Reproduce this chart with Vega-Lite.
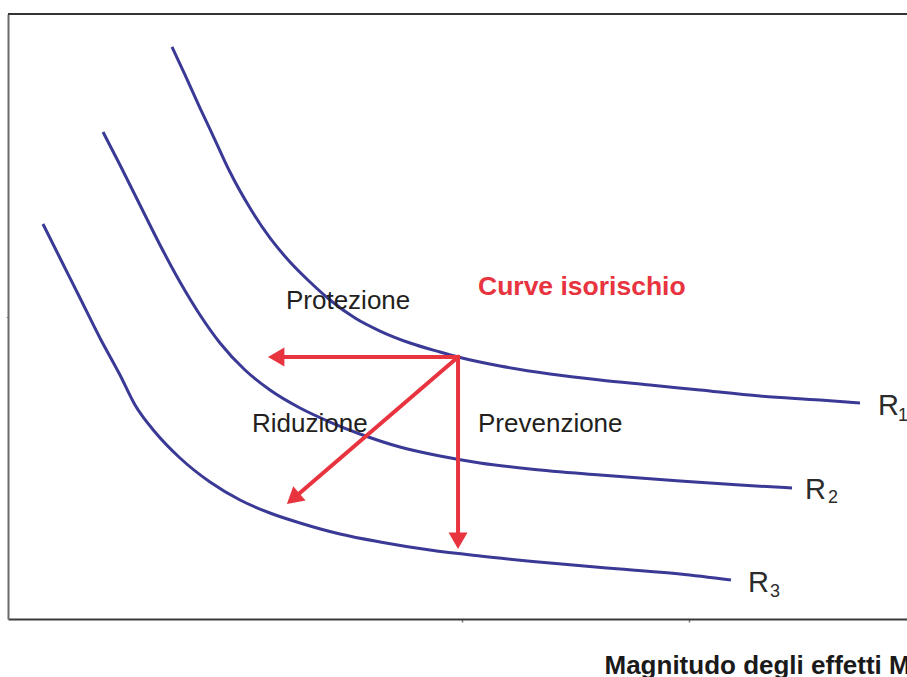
{
  "$schema": "https://vega.github.io/schema/vega-lite/v6.json",
  "width": 899,
  "height": 605,
  "autosize": {"type": "none"},
  "padding": {"left": 8, "top": 14, "right": 0, "bottom": 58},
  "background": "white",
  "config": {
    "view": {"stroke": null},
    "font": "Liberation Sans",
    "axisX": {
      "orient": "bottom", "domain": true, "domainColor": "#3a3a3a", "domainWidth": 2,
      "ticks": true, "tickSize": 3, "tickColor": "#777777", "tickWidth": 1.5,
      "labels": false, "grid": false,
      "titleFont": "Liberation Sans", "titleFontWeight": "bold",
      "titleFontSize": 26, "titleColor": "#1a1a1a", "titleX": 596, "titleY": 54,
      "titleAlign": "left", "titleBaseline": "alphabetic", "titleAnchor": "start"
    },
    "axisY": {
      "orient": "left", "domain": true, "domainColor": "#6b6b6b", "domainWidth": 2,
      "ticks": true, "tickSize": 2, "tickColor": "#999999",
      "labels": false, "grid": false
    }
  },
  "datasets": {
    "curves": [
      {"curve": "R1", "x": 18.24, "y": 94.55}, {"curve": "R1", "x": 19.69, "y": 89.92}, {"curve": "R1", "x": 21.36, "y": 84.46},
      {"curve": "R1", "x": 23.03, "y": 79.17}, {"curve": "R1", "x": 24.69, "y": 73.88}, {"curve": "R1", "x": 26.92, "y": 67.93},
      {"curve": "R1", "x": 29.14, "y": 62.98}, {"curve": "R1", "x": 31.37, "y": 59.01}, {"curve": "R1", "x": 33.59, "y": 55.70},
      {"curve": "R1", "x": 35.82, "y": 52.73}, {"curve": "R1", "x": 38.60, "y": 49.75}, {"curve": "R1", "x": 41.38, "y": 47.60},
      {"curve": "R1", "x": 44.72, "y": 45.62}, {"curve": "R1", "x": 48.05, "y": 44.13}, {"curve": "R1", "x": 50.06, "y": 43.31},
      {"curve": "R1", "x": 54.73, "y": 41.82}, {"curve": "R1", "x": 60.29, "y": 40.50}, {"curve": "R1", "x": 65.85, "y": 39.50},
      {"curve": "R1", "x": 71.41, "y": 38.68}, {"curve": "R1", "x": 76.97, "y": 37.85}, {"curve": "R1", "x": 83.65, "y": 36.86},
      {"curve": "R1", "x": 90.32, "y": 36.20}, {"curve": "R1", "x": 94.77, "y": 35.70},
      {"curve": "R2", "x": 10.57, "y": 80.50}, {"curve": "R2", "x": 12.46, "y": 75.04}, {"curve": "R2", "x": 14.68, "y": 68.43},
      {"curve": "R2", "x": 16.91, "y": 61.82}, {"curve": "R2", "x": 19.13, "y": 55.70}, {"curve": "R2", "x": 21.36, "y": 50.25},
      {"curve": "R2", "x": 23.58, "y": 45.62}, {"curve": "R2", "x": 26.36, "y": 41.16}, {"curve": "R2", "x": 29.14, "y": 37.85},
      {"curve": "R2", "x": 32.48, "y": 34.88}, {"curve": "R2", "x": 35.82, "y": 32.56}, {"curve": "R2", "x": 39.15, "y": 30.58},
      {"curve": "R2", "x": 43.60, "y": 28.43}, {"curve": "R2", "x": 48.05, "y": 26.94}, {"curve": "R2", "x": 52.50, "y": 25.79},
      {"curve": "R2", "x": 58.06, "y": 24.79}, {"curve": "R2", "x": 65.85, "y": 23.80}, {"curve": "R2", "x": 74.75, "y": 22.81},
      {"curve": "R2", "x": 81.42, "y": 22.15}, {"curve": "R2", "x": 87.21, "y": 21.65},
      {"curve": "R3", "x": 3.89, "y": 65.29}, {"curve": "R3", "x": 5.78, "y": 59.67}, {"curve": "R3", "x": 8.01, "y": 53.06},
      {"curve": "R3", "x": 10.23, "y": 46.45}, {"curve": "R3", "x": 12.46, "y": 40.33}, {"curve": "R3", "x": 14.13, "y": 35.37},
      {"curve": "R3", "x": 16.35, "y": 30.91}, {"curve": "R3", "x": 19.13, "y": 26.61}, {"curve": "R3", "x": 22.47, "y": 22.64},
      {"curve": "R3", "x": 25.81, "y": 19.67}, {"curve": "R3", "x": 29.14, "y": 17.52}, {"curve": "R3", "x": 32.48, "y": 15.87},
      {"curve": "R3", "x": 36.93, "y": 14.05}, {"curve": "R3", "x": 41.38, "y": 12.73}, {"curve": "R3", "x": 46.94, "y": 11.40},
      {"curve": "R3", "x": 52.50, "y": 10.41}, {"curve": "R3", "x": 60.29, "y": 9.26}, {"curve": "R3", "x": 68.08, "y": 8.26},
      {"curve": "R3", "x": 74.75, "y": 7.44}, {"curve": "R3", "x": 80.42, "y": 6.45}
    ],
    "arrows": [
      {"arrow": "Protezione", "x": 50.06, "y": 43.31, "x2": 29.83, "y2": 43.31},
      {"arrow": "Prevenzione", "x": 50.06, "y": 43.31, "x2": 50.06, "y2": 12.93},
      {"arrow": "Riduzione", "x": 50.06, "y": 43.31, "x2": 31.72, "y2": 19.88}
    ]
  },
  "layer": [
    {
      "data": {"name": "curves"},
      "mark": {"type": "line", "color": "#3a3a96", "strokeWidth": 3, "interpolate": "monotone"},
      "encoding": {
        "x": {
          "field": "x", "type": "quantitative",
          "scale": {"domain": [0, 100], "nice": false, "zero": false},
          "axis": {"values": [50.5, 75.75], "title": "Magnitudo degli effetti M"}
        },
        "y": {
          "field": "y", "type": "quantitative",
          "scale": {"domain": [0, 100], "nice": false, "zero": false},
          "axis": {"values": [50], "title": null}
        },
        "detail": {"field": "curve"}
      }
    },
    {
      "data": {"values": [{"edge": "top"}]},
      "mark": {"type": "rule", "color": "#333333", "strokeWidth": 2},
      "encoding": {"y": {"datum": 100, "type": "quantitative"}}
    },
    {
      "data": {"name": "arrows"},
      "mark": {"type": "rule", "color": "#e8343f", "strokeWidth": 4, "strokeCap": "square"},
      "encoding": {
        "x": {"field": "x", "type": "quantitative"},
        "y": {"field": "y", "type": "quantitative"},
        "x2": {"field": "x2"},
        "y2": {"field": "y2"}
      }
    },
    {
      "data": {"name": "arrows"},
      "transform": [{"filter": "datum.arrow === 'Protezione'"}],
      "mark": {"type": "point", "shape": "triangle-up", "filled": true, "size": 360, "angle": 270, "color": "#e8343f", "opacity": 1},
      "encoding": {
        "x": {"field": "x2", "type": "quantitative"},
        "y": {"field": "y2", "type": "quantitative"}
      }
    },
    {
      "data": {"name": "arrows"},
      "transform": [{"filter": "datum.arrow === 'Prevenzione'"}],
      "mark": {"type": "point", "shape": "triangle-up", "filled": true, "size": 360, "angle": 180, "color": "#e8343f", "opacity": 1},
      "encoding": {
        "x": {"field": "x2", "type": "quantitative"},
        "y": {"field": "y2", "type": "quantitative"}
      }
    },
    {
      "data": {"name": "arrows"},
      "transform": [{"filter": "datum.arrow === 'Riduzione'"}],
      "mark": {"type": "point", "shape": "triangle-up", "filled": true, "size": 360, "angle": 229.5, "color": "#e8343f", "opacity": 1},
      "encoding": {
        "x": {"field": "x2", "type": "quantitative"},
        "y": {"field": "y2", "type": "quantitative"}
      }
    },
    {
      "data": {"values": [
        {"label": "Protezione", "x": 30.92, "y": 51.24},
        {"label": "Riduzione", "x": 27.14, "y": 30.91},
        {"label": "Prevenzione", "x": 52.28, "y": 30.91}
      ]},
      "mark": {"type": "text", "align": "left", "baseline": "alphabetic", "fontSize": 26, "color": "#231f20", "font": "Liberation Sans"},
      "encoding": {
        "x": {"field": "x", "type": "quantitative"},
        "y": {"field": "y", "type": "quantitative"},
        "text": {"field": "label"}
      }
    },
    {
      "data": {"values": [{"label": "Curve isorischio", "x": 52.28, "y": 53.55}]},
      "mark": {"type": "text", "align": "left", "baseline": "alphabetic", "fontSize": 26.5, "fontWeight": "bold", "color": "#e8343f", "font": "Liberation Sans"},
      "encoding": {
        "x": {"field": "x", "type": "quantitative"},
        "y": {"field": "y", "type": "quantitative"},
        "text": {"field": "label"}
      }
    },
    {
      "data": {"values": [
        {"label": "R", "x": 96.77, "y": 33.72},
        {"label": "R", "x": 88.65, "y": 19.83},
        {"label": "R", "x": 82.31, "y": 4.46}
      ]},
      "mark": {"type": "text", "align": "left", "baseline": "alphabetic", "fontSize": 29, "color": "#2b2b2b", "font": "Liberation Sans"},
      "encoding": {
        "x": {"field": "x", "type": "quantitative"},
        "y": {"field": "y", "type": "quantitative"},
        "text": {"field": "label"}
      }
    },
    {
      "data": {"values": [
        {"label": "1", "x": 99.0, "y": 32.73},
        {"label": "2", "x": 91.21, "y": 19.17},
        {"label": "3", "x": 84.76, "y": 3.64}
      ]},
      "mark": {"type": "text", "align": "left", "baseline": "alphabetic", "fontSize": 18, "color": "#2b2b2b", "font": "Liberation Sans"},
      "encoding": {
        "x": {"field": "x", "type": "quantitative"},
        "y": {"field": "y", "type": "quantitative"},
        "text": {"field": "label"}
      }
    }
  ]
}
